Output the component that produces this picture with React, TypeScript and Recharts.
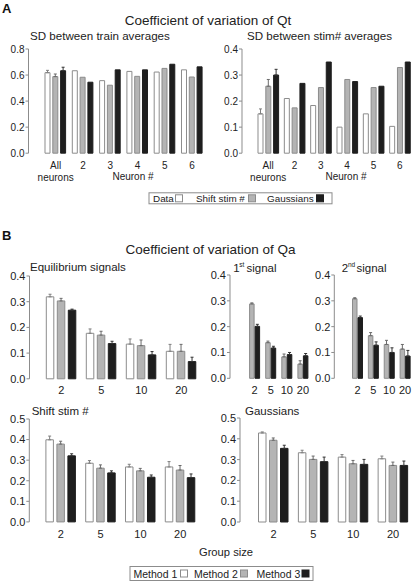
import React from 'react';
import { BarChart, Bar, XAxis, YAxis, ErrorBar } from 'recharts';

const FONT = '"Liberation Sans", Arial, Helvetica, sans-serif';

// Panel A: SD between train averages / stim# averages, per neuron
const neuronLabels = ['All\nneurons', '2', '3', '4', '5', '6'];

const trainData = [0.618, 0.633, 0.557, 0.628, 0.623, 0.64];
const trainShift = [0.588, 0.583, 0.522, 0.59, 0.651, 0.585];
const trainGauss = [0.633, 0.545, 0.64, 0.64, 0.683, 0.663];
const trainDataErr = [0.018, null, null, null, null, null];
const trainShiftErr = [0.02, null, null, null, null, null];
const trainGaussErr = [0.027, null, null, null, null, null];

const stimData = [0.151, 0.21, 0.183, 0.1, 0.151, 0.103];
const stimShift = [0.257, 0.174, 0.252, 0.283, 0.252, 0.329];
const stimGauss = [0.3, 0.268, 0.35, 0.275, 0.257, 0.35];
const stimDataErr = [0.019, null, null, null, null, null];
const stimShiftErr = [0.026, null, null, null, null, null];
const stimGaussErr = [0.022, null, null, null, null, null];

// Panel B: CV of Qa by group size
const groupSizes = ['2', '5', '10', '20'];

const eqM1 = [0.319, 0.177, 0.135, 0.107];
const eqM2 = [0.303, 0.17, 0.129, 0.107];
const eqM3 = [0.267, 0.137, 0.093, 0.067];
const eqM1Err = [0.01, 0.017, 0.02, 0.027];
const eqM2Err = [0.01, 0.015, 0.022, 0.027];
const eqM3Err = [0.004, 0.009, 0.013, 0.017];

const firstM2 = [0.288, 0.138, 0.083, 0.055];
const firstM3 = [0.201, 0.117, 0.092, 0.087];
const firstM2Err = [0.004, 0.006, 0.011, 0.013];
const firstM3Err = [0.008, 0.007, 0.008, 0.009];

const secondM2 = [0.308, 0.165, 0.131, 0.113];
const secondM3 = [0.235, 0.128, 0.1, 0.086];
const secondM2Err = [0.004, 0.012, 0.016, 0.018];
const secondM3Err = [0.006, 0.013, 0.018, 0.022];

const shiftM1 = [0.399, 0.285, 0.267, 0.267];
const shiftM2 = [0.378, 0.261, 0.248, 0.252];
const shiftM3 = [0.321, 0.238, 0.217, 0.215];
const shiftM1Err = [0.018, 0.013, 0.013, 0.026];
const shiftM2Err = [0.014, 0.016, 0.012, 0.022];
const shiftM3Err = [0.01, 0.01, 0.011, 0.018];

const gaussM1 = [0.428, 0.333, 0.312, 0.304];
const gaussM2 = [0.393, 0.301, 0.28, 0.272];
const gaussM3 = [0.354, 0.29, 0.277, 0.272];
const gaussM1Err = [0.005, 0.012, 0.012, 0.013];
const gaussM2Err = [0.011, 0.016, 0.016, 0.016];
const gaussM3Err = [0.015, 0.022, 0.024, 0.021];

const ticks08 = [0, 0.2, 0.4, 0.6, 0.8];
const ticks04 = [0, 0.1, 0.2, 0.3, 0.4];
const ticks05 = [0, 0.1, 0.2, 0.3, 0.4, 0.5];

const STYLE = {
  white: { fill: '#ffffff', stroke: '#8c8c8c', err: '#808080' },
  gray: { fill: '#b4b4b4', stroke: '#8c8c8c', err: '#6a6a6a' },
  black: { fill: '#1e1e1e', stroke: '#1e1e1e', err: '#333333' },
};

type Kind = keyof typeof STYLE;

interface Series {
  kind: Kind;
  values: number[];
  errors: (number | null)[];
}

interface PanelProps {
  left: number;
  top: number;
  width: number;
  height: number;
  yWidth: number;
  ticks: number[];
  pad: number;
  barSize: number;
  barGap: number;
  fontSize: number;
  cats: string[];
  series: Series[];
}

const buildRows = (cats: string[], series: Series[]) =>
  cats.map((name, i) => {
    const row: Record<string, any> = { name };
    series.forEach((s, k) => {
      row['v' + k] = s.values[i];
      const e = s.errors[i];
      row['e' + k] = e == null ? null : [0, e];
    });
    return row;
  });

const GroupTick = (props: any) => {
  const { x, y, payload, fontSize } = props;
  const lines = String(payload.value).split('\n');
  return (
    <g>
      {lines.map((l, i) => (
        <text key={i} x={x} y={y + 15.7 + i * 12} textAnchor="middle" fontSize={fontSize} fill="#222">
          {l}
        </text>
      ))}
    </g>
  );
};

const Panel = (p: PanelProps) => {
  const rows = buildRows(p.cats, p.series);
  return (
    <div style={{ position: 'absolute', left: p.left, top: p.top }}>
      <BarChart
        width={p.width}
        height={p.height}
        data={rows}
        margin={{ top: 5, right: 0, bottom: 0, left: 0 }}
        barSize={p.barSize}
        barGap={p.barGap}
      >
        <XAxis
          dataKey="name"
          axisLine={false}
          tickLine={false}
          tickSize={0}
          tickMargin={0}
          height={30}
          interval={0}
          padding={{ left: p.pad, right: 0 }}
          tick={<GroupTick fontSize={p.fontSize} />}
        />
        <YAxis
          width={p.yWidth}
          domain={[0, p.ticks[p.ticks.length - 1]]}
          ticks={p.ticks}
          interval={0}
          tickFormatter={(v: number) => v.toFixed(1)}
          tickSize={3}
          tickMargin={1}
          axisLine={{ stroke: '#8c8c8c' }}
          tickLine={{ stroke: '#8c8c8c' }}
          tick={{ fill: '#222', fontSize: p.fontSize }}
        />
        {p.series.map((s, k) => (
          <Bar
            key={k}
            dataKey={'v' + k}
            fill={STYLE[s.kind].fill}
            stroke={STYLE[s.kind].stroke}
            strokeWidth={1}
            isAnimationActive={false}
          >
            <ErrorBar dataKey={'e' + k} width={1.5} stroke={STYLE[s.kind].err} strokeWidth={1} direction="y" />
          </Bar>
        ))}
      </BarChart>
    </div>
  );
};

const LegendBox = ({ x, y, w, h, fontSize, items }: any) => (
  <g>
    <rect x={x} y={y} width={w} height={h} fill="#fff" stroke="#8c8c8c" strokeWidth={1} />
    {items.map((it: any, i: number) => (
      <g key={i}>
        <text x={it.tx} y={y + h - 2.2} fontSize={fontSize} fill="#222">
          {it.label}
        </text>
        <rect
          x={it.sx}
          y={y + (h - 7) / 2}
          width={7}
          height={7}
          fill={STYLE[it.kind as Kind].fill}
          stroke={STYLE[it.kind as Kind].stroke}
        />
      </g>
    ))}
  </g>
);

export default function App() {
  return (
    <div
      style={{
        position: 'absolute',
        left: 0,
        top: 0,
        width: 413,
        height: 581,
        background: '#fff',
        fontFamily: FONT,
        overflow: 'hidden',
      }}
    >
      <Panel
        left={0}
        top={43.5}
        width={205.8}
        height={139.2}
        yWidth={28.5}
        ticks={ticks08}
        pad={13.5}
        barSize={5}
        barGap={2.8}
        fontSize={10}
        cats={neuronLabels}
        series={[
          { kind: 'white', values: trainData, errors: trainDataErr },
          { kind: 'gray', values: trainShift, errors: trainShiftErr },
          { kind: 'black', values: trainGauss, errors: trainGaussErr },
        ]}
      />
      <Panel
        left={214}
        top={43.5}
        width={199}
        height={139.2}
        yWidth={28}
        ticks={ticks04}
        pad={13}
        barSize={5}
        barGap={2.8}
        fontSize={10}
        cats={neuronLabels}
        series={[
          { kind: 'white', values: stimData, errors: stimDataErr },
          { kind: 'gray', values: stimShift, errors: stimShiftErr },
          { kind: 'black', values: stimGauss, errors: stimGaussErr },
        ]}
      />
      <Panel
        left={0}
        top={270.5}
        width={201.3}
        height={137.8}
        yWidth={29.5}
        ticks={ticks04}
        pad={11.8}
        barSize={7.5}
        barGap={3.5}
        fontSize={11}
        cats={groupSizes}
        series={[
          { kind: 'white', values: eqM1, errors: eqM1Err },
          { kind: 'gray', values: eqM2, errors: eqM2Err },
          { kind: 'black', values: eqM3, errors: eqM3Err },
        ]}
      />
      <Panel
        left={205}
        top={270}
        width={106}
        height={138.3}
        yWidth={25}
        ticks={ticks04}
        pad={16.6}
        barSize={4.5}
        barGap={1}
        fontSize={11}
        cats={groupSizes}
        series={[
          { kind: 'gray', values: firstM2, errors: firstM2Err },
          { kind: 'black', values: firstM3, errors: firstM3Err },
        ]}
      />
      <Panel
        left={310}
        top={270}
        width={103}
        height={138.3}
        yWidth={24.3}
        ticks={ticks04}
        pad={15.2}
        barSize={4.5}
        barGap={1}
        fontSize={11}
        cats={groupSizes}
        series={[
          { kind: 'gray', values: secondM2, errors: secondM2Err },
          { kind: 'black', values: secondM3, errors: secondM3Err },
        ]}
      />
      <Panel
        left={0}
        top={413.8}
        width={200.1}
        height={137.9}
        yWidth={29.3}
        ticks={ticks05}
        pad={11.6}
        barSize={7.5}
        barGap={3.5}
        fontSize={11}
        cats={groupSizes}
        series={[
          { kind: 'white', values: shiftM1, errors: shiftM1Err },
          { kind: 'gray', values: shiftM2, errors: shiftM2Err },
          { kind: 'black', values: shiftM3, errors: shiftM3Err },
        ]}
      />
      <Panel
        left={205}
        top={412.7}
        width={208}
        height={139}
        yWidth={35}
        ticks={ticks05}
        pad={13.5}
        barSize={7.5}
        barGap={3.5}
        fontSize={11}
        cats={groupSizes}
        series={[
          { kind: 'white', values: gaussM1, errors: gaussM1Err },
          { kind: 'gray', values: gaussM2, errors: gaussM2Err },
          { kind: 'black', values: gaussM3, errors: gaussM3Err },
        ]}
      />

      <svg
        width={413}
        height={581}
        style={{ position: 'absolute', left: 0, top: 0, pointerEvents: 'none' }}
        fontFamily={FONT}
      >
        <text x={2} y={13} fontSize={13} fontWeight="bold" fill="#111">A</text>
        <text x={208} y={24.5} fontSize={13.5} textAnchor="middle" fill="#222">Coefficient of variation of Qt</text>
        <text x={30} y={39.8} fontSize={11.6} fill="#222">SD between train averages</text>
        <text x={247} y={39.8} fontSize={11.6} fill="#222">SD between stim# averages</text>
        <text x={133} y={180} fontSize={10} textAnchor="middle" fill="#222">Neuron #</text>
        <text x={346} y={180} fontSize={10} textAnchor="middle" fill="#222">Neuron #</text>
        <LegendBox
          x={149}
          y={192.8}
          w={183}
          h={11}
          fontSize={9.9}
          items={[
            { label: 'Data', tx: 153, sx: 175.5, kind: 'white' },
            { label: 'Shift stim #', tx: 196, sx: 248.5, kind: 'gray' },
            { label: 'Gaussians', tx: 267, sx: 316.5, kind: 'black' },
          ]}
        />

        <text x={2} y={240} fontSize={13} fontWeight="bold" fill="#111">B</text>
        <text x={210.5} y={254} fontSize={13.5} textAnchor="middle" fill="#222">Coefficient of variation of Qa</text>
        <text x={30} y={271} fontSize={11.5} fill="#222">Equilibrium signals</text>
        <text x={233.3} y={272} fontSize={11.5} fill="#222">1</text>
        <text x={239.3} y={267} fontSize={6.5} fill="#222">st</text>
        <text x={246.5} y={272} fontSize={11.5} fill="#222">signal</text>
        <text x={341.7} y={272} fontSize={11.5} fill="#222">2</text>
        <text x={348} y={267} fontSize={6.5} fill="#222">nd</text>
        <text x={356.5} y={272} fontSize={11.5} fill="#222">signal</text>
        <text x={31.7} y={415} fontSize={11.5} fill="#222">Shift stim #</text>
        <text x={245} y={415} fontSize={11.5} fill="#222">Gaussians</text>
        <text x={226} y={556} fontSize={11.2} textAnchor="middle" fill="#222">Group size</text>
        <LegendBox
          x={130}
          y={566.5}
          w={183}
          h={14}
          fontSize={10.5}
          items={[
            { label: 'Method 1', tx: 133.5, sx: 180.5, kind: 'white' },
            { label: 'Method 2', tx: 194, sx: 240.5, kind: 'gray' },
            { label: 'Method 3', tx: 256.5, sx: 302, kind: 'black' },
          ]}
        />
      </svg>
    </div>
  );
}
